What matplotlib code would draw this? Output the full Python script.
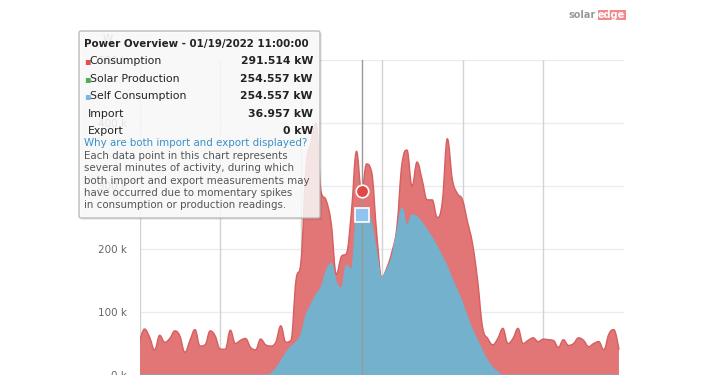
import matplotlib
matplotlib.use("Agg")
import matplotlib.pyplot as plt
from matplotlib.patches import FancyBboxPatch, Rectangle, PathPatch
from matplotlib.path import Path

# 15-minute samples for 01/19/2022, values in kW
hours = [i * 0.25 for i in range(96)]
consumption_kw = [53, 73, 60, 40, 63, 52, 58, 70, 62, 36,
                  55, 72, 46, 48, 70, 62, 41, 41, 71, 50,
                  55, 58, 44, 40, 57, 48, 46, 52, 78, 52,
                  55, 150, 180, 330, 370, 400, 290, 277, 240, 160,
                  188, 193, 260, 355, 291.514, 335, 322, 225, 155, 170,
                  195, 235, 335, 357, 300, 338, 310, 278, 278, 250,
                  275, 375, 310, 288, 278, 243, 208, 150, 75, 58,
                  48, 58, 74, 50, 58, 74, 50, 55, 59, 53,
                  57, 56, 55, 44, 56, 47, 50, 59, 55, 45,
                  50, 53, 40, 65, 72, 40]
self_consumption_kw = [0, 0, 0, 0, 0, 0, 0, 0, 0, 0,
                       0, 0, 0, 0, 0, 0, 0, 0, 0, 0,
                       0, 0, 0, 0, 0, 0, 2, 10, 22, 35,
                       45, 52, 65, 95, 112, 128, 140, 165, 177, 148,
                       138, 174, 168, 248, 254.557, 262, 240, 195, 155, 168,
                       188, 228, 265, 238, 254, 251, 242, 230, 218, 204,
                       188, 172, 152, 134, 115, 92, 72, 55, 38, 23,
                       12, 5, 0, 0, 0, 0, 0, 0, 0, 0,
                       0, 0, 0, 0, 0, 0, 0, 0, 0, 0,
                       0, 0, 0, 0, 0, 0]
y_ticks = [0, 100, 200, 300, 400, 500]
x_grid = [0, 4, 8, 12, 16, 20]
hover_hour = 11.0

tooltip_title = "Power Overview - 01/19/2022 11:00:00"
tooltip_rows = [("Consumption", "291.514 kW", "#e05050"),
                ("Solar Production", "254.557 kW", "#4caf50"),
                ("Self Consumption", "254.557 kW", "#7cb5ec"),
                ("Import", "36.957 kW", None),
                ("Export", "0 kW", None)]
tooltip_link = "Why are both import and export displayed?"
tooltip_note = ["Each data point in this chart represents",
                "several minutes of activity, during which",
                "both import and export measurements may",
                "have occurred due to momentary spikes",
                "in consumption or production readings."]


def spline_path(xs, ys, close=False):
    # same control points as a highcharts areaspline (smoothing 1.5)
    sm = 1.5
    d = sm + 1
    verts = [(xs[0], ys[0])]
    codes = [Path.MOVETO]
    prev_right = (xs[0], ys[0])
    n = len(xs)
    for i in range(1, n):
        x, y = xs[i], ys[i]
        lx, ly = xs[i - 1], ys[i - 1]
        if i < n - 1:
            nx, ny = xs[i + 1], ys[i + 1]
            lcx, lcy = (sm * x + lx) / d, (sm * y + ly) / d
            rcx, rcy = (sm * x + nx) / d, (sm * y + ny) / d
            corr = (rcy - lcy) * (rcx - x) / (rcx - lcx) + y - rcy
            lcy += corr
            rcy += corr
            if lcy > ly and lcy > y:
                lcy = max(ly, y)
                rcy = 2 * y - lcy
            elif lcy < ly and lcy < y:
                lcy = min(ly, y)
                rcy = 2 * y - lcy
            if rcy > ny and rcy > y:
                rcy = max(ny, y)
                lcy = 2 * y - rcy
            elif rcy < ny and rcy < y:
                rcy = min(ny, y)
                lcy = 2 * y - rcy
        else:
            lcx, lcy = x, y
            rcx, rcy = x, y
        verts += [prev_right, (lcx, lcy), (x, y)]
        codes += [Path.CURVE4] * 3
        prev_right = (rcx, rcy)
    if close:
        verts += [(xs[-1], 0), (xs[0], 0), (xs[0], ys[0])]
        codes += [Path.LINETO, Path.LINETO, Path.CLOSEPOLY]
    return Path(verts, codes)


W, H = 710, 375
fig = plt.figure(figsize=(W / 100, H / 100), dpi=100)
fig.patch.set_facecolor("white")

ax = fig.add_axes([139.5 / W, 0, 484.5 / W, 315 / H])
ax.set_xlim(0, 24)
ax.set_ylim(0, 500)
for s in ax.spines.values():
    s.set_visible(False)
ax.set_xticks([])
ax.set_yticks(y_ticks)
ax.set_yticklabels([f"{v} k" for v in y_ticks], color="#666666", fontsize=7.5)
ax.tick_params(axis="y", length=0, pad=9)
for v in y_ticks[1:]:
    ax.axhline(v, color="#e6edf5", lw=1, zorder=0)
for h in x_grid:
    ax.axvline(h, color="#d3d3d3", lw=1, zorder=0)

ax.add_patch(PathPatch(spline_path(hours, consumption_kw, close=True),
                       facecolor="#e27575", lw=0, zorder=2))
ax.add_patch(PathPatch(spline_path(hours, consumption_kw), facecolor="none",
                       edgecolor="#d65f5f", lw=1, zorder=3))
ax.add_patch(PathPatch(spline_path(hours, self_consumption_kw, close=True),
                       facecolor="#74b1cd", lw=0, zorder=4))
ax.add_patch(PathPatch(spline_path(hours, self_consumption_kw), facecolor="none",
                       edgecolor="#74b1cd", lw=0.8, zorder=4))

# hover crosshair and markers
ax.axvline(hover_hour, color="#999999", lw=1, zorder=5)
hi = hours.index(hover_hour)
ax.plot(hover_hour, consumption_kw[hi], "o", ms=9, mfc="#e04848",
        mec="white", mew=1.2, zorder=6, clip_on=False)
ax.plot(hover_hour, self_consumption_kw[hi], "s", ms=10, mfc="#90c4f0",
        mec="white", mew=1.2, zorder=6, clip_on=False)

# overlay in pixel coords for tooltip, axis unit and logo
ov = fig.add_axes([0, 0, 1, 1], zorder=10)
ov.set_xlim(0, W)
ov.set_ylim(H, 0)
ov.axis("off")
ov.patch.set_alpha(0)

ov.text(108, 39, "W", color="#666666", fontsize=7.5, ha="center", va="center",
        zorder=0.5)

ov.add_patch(Rectangle((81, 33), 241, 187, facecolor="black", alpha=0.07, lw=0, zorder=1))
ov.add_patch(FancyBboxPatch((79, 31), 241, 187, boxstyle="round,pad=0,rounding_size=2",
                            facecolor="#fbfbfb", edgecolor="#b0b0b0", lw=1, alpha=0.85,
                            zorder=1))
ov.text(84, 43.5, tooltip_title, fontsize=7.4, fontweight="bold", color="#222222",
        va="center")
for k, (label, value, col) in enumerate(tooltip_rows):
    y = 61 + k * 17.6
    if col:
        ov.text(84, y, "\u25aa", color=col, fontsize=7, va="center")
        ov.text(89.5, y, label, color="#222222", fontsize=7.8, va="center")
    else:
        ov.text(88, y, label, color="#222222", fontsize=7.8, va="center")
    ov.text(313, y, value, color="#222222", fontsize=7.8, fontweight="bold",
            va="center", ha="right")
ov.text(84, 143.3, tooltip_link, color="#3a8fc8", fontsize=7.4, va="center")
for k, line in enumerate(tooltip_note):
    ov.text(84, 156 + k * 12.3, line, color="#555555", fontsize=7.4, va="center")

ov.text(596, 15, "solar", color="#9a9a9a", fontsize=7, fontweight="bold",
        ha="right", va="center")
ov.text(598, 15, "edge", color="white", fontsize=7, fontweight="bold",
        ha="left", va="center",
        bbox=dict(boxstyle="square,pad=0.05", facecolor="#f08a8a", lw=0))

fig.savefig("out.png", dpi=100)
